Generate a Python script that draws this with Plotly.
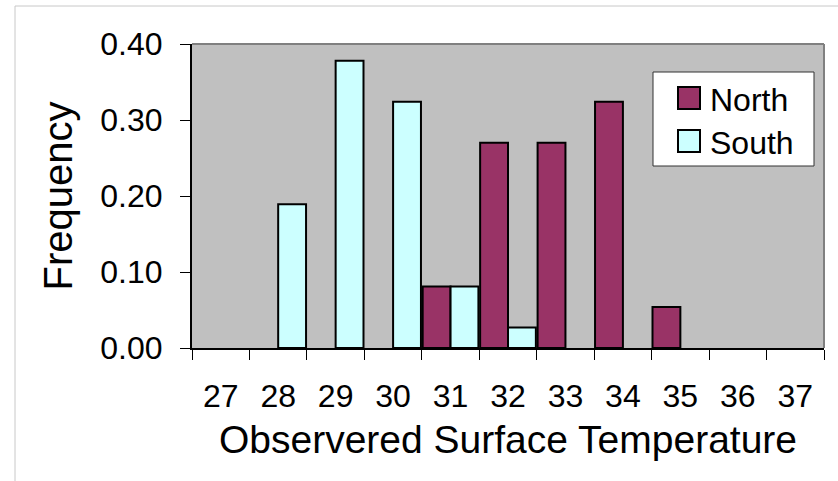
import plotly.graph_objects as go

categories = ["27", "28", "29", "30", "31", "32", "33", "34", "35", "36", "37"]
north = [None, None, None, None, 0.081, 0.270, 0.270, 0.324, 0.054, None, None]
south = [None, 0.189, 0.378, 0.324, 0.081, 0.027, None, None, None, None, None]
series_names = ["North", "South"]
series_colors = ["#993366", "#CCFFFF"]

FONT = "Liberation Sans, Arial, sans-serif"

fig = go.Figure()
for name, vals, col in zip(series_names, [north, south], series_colors):
    fig.add_trace(go.Bar(name=name, x=categories, y=vals, showlegend=False,
                         marker=dict(color=col, line=dict(color="black", width=2))))

L, R, T, B = 192, 824, 44, 348
W, H = 838, 481

def px_x(p):
    return (p - L) / (R - L)

def px_y(p):
    return (B - p) / (B - T)

shapes = [
    dict(type="line", xref="paper", yref="paper", x0=0, x1=1, y0=1, y1=1,
         line=dict(color="#808080", width=2)),
    dict(type="line", xref="paper", yref="paper", x0=1, x1=1, y0=0, y1=1,
         line=dict(color="#808080", width=2)),
    dict(type="line", xref="paper", yref="paper", x0=px_x(15), x1=px_x(W + 5),
         y0=px_y(6), y1=px_y(6), line=dict(color="#C8C8C8", width=1)),
    dict(type="line", xref="paper", yref="paper", x0=px_x(15), x1=px_x(15),
         y0=px_y(6), y1=px_y(H + 5), line=dict(color="#C8C8C8", width=1)),
    # legend box
    dict(type="rect", xref="paper", yref="paper", x0=px_x(653), x1=px_x(814),
         y0=px_y(166), y1=px_y(72), fillcolor="white", line=dict(color="#333333", width=1),
         layer="above"),
]
annotations = []
row_centers = [98, 141]
for name, col, cy in zip(series_names, series_colors, row_centers):
    shapes.append(dict(type="rect", xref="paper", yref="paper", x0=px_x(678), x1=px_x(700),
                       y0=px_y(cy + 11), y1=px_y(cy - 11), fillcolor=col,
                       line=dict(color="black", width=2), layer="above"))
    annotations.append(dict(text=name, xref="paper", yref="paper", x=px_x(708), y=px_y(cy + 2),
                            xanchor="left", yanchor="middle", showarrow=False,
                            font=dict(size=32, family=FONT, color="black")))

fig.update_layout(
    width=W, height=H,
    margin=dict(l=L, r=W - R, t=T, b=H - B, pad=0),
    paper_bgcolor="white",
    plot_bgcolor="#C0C0C0",
    barmode="group",
    bargap=0.03,
    bargroupgap=0,
    font=dict(family=FONT, color="black", size=32),
    showlegend=False,
    xaxis=dict(type="category", tickson="boundaries", ticks="outside", ticklen=10,
               tickcolor="black", tickwidth=1, showline=True, linecolor="black", linewidth=2,
               showgrid=False, tickfont=dict(size=32), ticklabelstandoff=19,
               title=dict(text="Observered Surface Temperature", font=dict(size=39), standoff=12)),
    yaxis=dict(range=[0, 0.4], dtick=0.1, tickformat=".2f", ticks="outside", ticklen=10,
               tickcolor="black", tickwidth=1, showline=True, linecolor="black", linewidth=2,
               showgrid=False, zeroline=False, tickfont=dict(size=32),
               ticklabelstandoff=11,
               title=dict(text="Frequency", font=dict(size=40), standoff=15)),
    shapes=shapes,
    annotations=annotations,
)

fig.write_html("out.html")
